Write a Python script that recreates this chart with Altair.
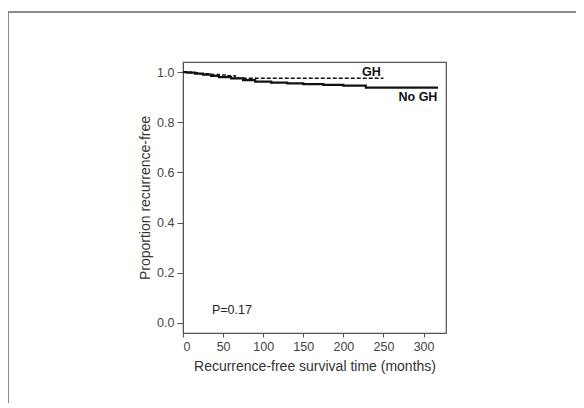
import altair as alt
import pandas as pd

# No GH (solid) Kaplan-Meier curve
nogh_t = [0, 5, 15, 25, 35, 45, 60, 75, 90, 110, 130, 150, 175, 200, 228, 318]
nogh_s = [1.0, 0.998, 0.994, 0.99, 0.985, 0.98, 0.975, 0.968, 0.962, 0.958, 0.955, 0.952, 0.949, 0.946, 0.938, 0.938]

# GH (dashed) Kaplan-Meier curve
gh_t = [0, 10, 20, 35, 45, 55, 65, 250]
gh_s = [1.0, 0.997, 0.993, 0.99, 0.988, 0.985, 0.975, 0.975]

label_text = ["GH", "No GH", "P=0.17"]
label_x = [235, 293, 61]
label_y = [1.001, 0.902, 0.052]
label_bold = ["bold", "bold", "normal"]

df = pd.concat([
    pd.DataFrame({"t": nogh_t, "s": nogh_s, "g": "No GH"}),
    pd.DataFrame({"t": gh_t, "s": gh_s, "g": "GH"}),
])
lab = pd.DataFrame({"text": label_text, "x": label_x, "y": label_y, "w": label_bold})

xs = alt.Scale(domain=[0, 328], nice=False, zero=False)
ys = alt.Scale(domain=[-0.04, 1.04], nice=False, zero=False)

lines = alt.Chart(df).mark_line(interpolate="step-after", color="#111").encode(
    x=alt.X("t:Q", scale=xs, axis=alt.Axis(values=[0, 50, 100, 150, 200, 250, 300],
                                           title="Recurrence-free survival time (months)",
                                           tickSize=4, labelPadding=3, titlePadding=7)),
    y=alt.Y("s:Q", scale=ys, axis=alt.Axis(values=[0, 0.2, 0.4, 0.6, 0.8, 1.0], format=".1f",
                                           title="Proportion recurrence-free",
                                           tickSize=6, labelPadding=3, titlePadding=4)),
    strokeDash=alt.StrokeDash("g:N", scale=alt.Scale(domain=["No GH", "GH"], range=[[1, 0], [4, 2]]), legend=None),
    strokeWidth=alt.StrokeWidth("g:N", scale=alt.Scale(domain=["No GH", "GH"], range=[2.2, 1.5]), legend=None),
)

bold_lab = alt.Chart(lab[lab.w == "bold"]).mark_text(fontWeight="bold", fontSize=12.5, font="Liberation Sans", color="#111").encode(
    x=alt.X("x:Q", scale=xs), y=alt.Y("y:Q", scale=ys), text="text:N")
norm_lab = alt.Chart(lab[lab.w == "normal"]).mark_text(fontSize=12.5, font="Liberation Sans", color="#222").encode(
    x=alt.X("x:Q", scale=xs), y=alt.Y("y:Q", scale=ys), text="text:N")

frame_top = alt.Chart(pd.DataFrame({"a": [0]})).mark_rule(color="#8a8a8a", strokeWidth=2, clip=False).encode(
    x=alt.value(-176), x2=alt.value(420), y=alt.value(-50))
frame_left = alt.Chart(pd.DataFrame({"a": [0]})).mark_rule(color="#8a8a8a", strokeWidth=2, clip=False).encode(
    x=alt.value(-175), y=alt.value(-50), y2=alt.value(360))

chart = alt.layer(frame_top, frame_left, lines, bold_lab, norm_lab).properties(
    width=263, height=271,
    autosize=alt.AutoSizeParams(type="none"),
    padding={"left": 175, "top": 54, "right": 130, "bottom": 70},
).configure_view(stroke="#555", strokeWidth=1.2).configure_axis(
    grid=False, domainColor="#555", tickColor="#555", labelFont="Liberation Sans",
    titleFont="Liberation Sans", labelFontSize=12.5, titleFontSize=14, labelColor="#444",
    titleColor="#333", titleFontWeight="normal",
)

chart.save("out.html", embed_options={"renderer": "svg", "actions": False})
